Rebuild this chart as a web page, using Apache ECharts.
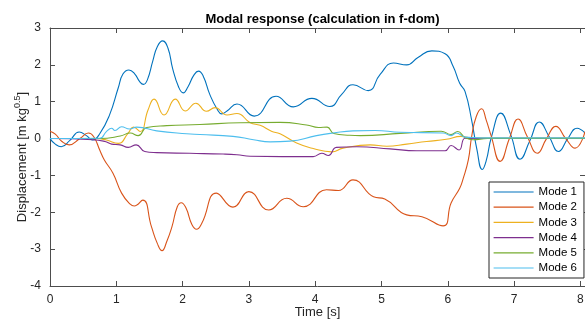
<!DOCTYPE html>
<html><head><meta charset="utf-8">
<script src="https://cdn.jsdelivr.net/npm/echarts@6/dist/echarts.min.js"></script>
<style>html,body{margin:0;padding:0;background:#fff}#c{width:585px;height:323px}</style>
</head><body><div id="c"></div>
<script>
var seriesNames = ['Mode 1','Mode 2','Mode 3','Mode 4','Mode 5','Mode 6'];
var xTicks = [0,1,2,3,4,5,6,7,8];
var yTicks = [-4,-3,-2,-1,0,1,2,3];
var mode1 = [[0,0],[0.08,-0.15],[0.17,-0.22],[0.3,-0.05],[0.44,0.18],[0.55,0.08],[0.64,-0.04],[0.75,0.13],[0.9,0.65],[1.03,1.38],[1.10,1.75],[1.19,1.86],[1.28,1.75],[1.35,1.55],[1.41,1.47],[1.47,1.6],[1.55,2.1],[1.62,2.5],[1.70,2.65],[1.78,2.45],[1.85,1.9],[1.94,1.4],[2.01,1.24],[2.08,1.4],[2.17,1.72],[2.24,1.83],[2.31,1.7],[2.41,1.2],[2.52,0.8],[2.59,0.67],[2.67,0.75],[2.82,0.94],[3.08,0.61],[3.41,1.15],[3.67,0.86],[3.95,1.09],[4.22,0.87],[4.40,1.2],[4.57,1.46],[4.8,1.30],[4.98,1.74],[5.18,2.05],[5.38,2.0],[5.55,2.2],[5.76,2.38],[5.96,2.30],[6.08,1.96],[6.18,1.5],[6.26,1.28],[6.36,0.5],[6.44,-0.3],[6.52,-0.84],[6.58,-0.6],[6.66,0.05],[6.80,0.69],[6.95,0.1],[7.09,-0.56],[7.24,-0.05],[7.38,0.45],[7.53,0.05],[7.67,-0.35],[7.81,0],[7.95,0.28],[8.07,0.15]];
var mode2 = [[0,0.2],[0.08,0.12],[0.18,-0.08],[0.29,-0.17],[0.45,0.0],[0.58,0.15],[0.66,0.05],[0.75,-0.31],[0.82,-0.58],[0.95,-0.94],[1.08,-1.48],[1.21,-1.78],[1.27,-1.83],[1.40,-1.67],[1.53,-2.39],[1.62,-2.85],[1.69,-3.04],[1.76,-2.8],[1.84,-2.39],[1.92,-1.85],[1.98,-1.74],[2.05,-1.88],[2.14,-2.33],[2.21,-2.46],[2.29,-2.3],[2.51,-1.48],[2.76,-1.86],[3.0,-1.44],[3.3,-1.94],[3.57,-1.62],[3.82,-1.85],[4.17,-1.39],[4.35,-1.41],[4.57,-1.12],[4.88,-1.58],[5.05,-1.64],[5.38,-2.07],[5.61,-2.12],[5.93,-2.37],[6.05,-1.75],[6.18,-1.35],[6.23,-1.10],[6.31,-0.58],[6.36,0.05],[6.43,0.6],[6.51,0.81],[6.58,0.5],[6.65,0.1],[6.79,-0.62],[6.93,0],[7.06,0.53],[7.2,0.05],[7.35,-0.40],[7.49,0],[7.63,0.33],[7.78,0],[7.92,-0.26],[8.07,0.19]];
var mode3 = [[0,0],[0.7,0],[0.85,-0.04],[1.03,-0.13],[1.18,0.15],[1.26,0.31],[1.36,0.19],[1.48,0.78],[1.57,1.07],[1.72,0.64],[1.89,1.07],[2.04,0.75],[2.20,0.96],[2.36,0.74],[2.49,0.84],[2.67,0.64],[2.82,0.68],[3.02,0.43],[3.17,0.36],[3.34,0.20],[3.47,0.13],[3.72,-0.12],[3.97,-0.27],[4.25,-0.36],[4.42,-0.26],[4.83,-0.17],[5.08,-0.21],[5.38,-0.15],[5.68,-0.08],[5.98,-0.02],[6.2,0.06],[6.35,0.02],[8.07,0.02]];
var mode4 = [[0,0],[0.65,-0.03],[0.83,-0.08],[0.93,-0.15],[1.06,-0.17],[1.18,-0.24],[1.3,-0.17],[1.43,-0.35],[1.61,-0.38],[2.11,-0.40],[2.61,-0.42],[2.82,-0.44],[3.02,-0.48],[3.97,-0.49],[4.10,-0.40],[4.20,-0.46],[4.32,-0.24],[4.63,-0.22],[5.13,-0.28],[5.53,-0.33],[5.96,-0.33],[6.05,-0.19],[6.17,-0.31],[6.26,0.01],[6.4,0.0],[8.07,0]];
var mode5 = [[0,0],[0.75,0],[1.06,0.07],[1.21,0.15],[1.33,0.08],[1.46,0.30],[1.76,0.35],[2.26,0.38],[2.87,0.43],[3.47,0.44],[3.87,0.37],[4.05,0.30],[4.18,0.31],[4.28,0.14],[4.52,0.09],[4.68,0.08],[5.28,0.14],[5.90,0.20],[6.05,0.11],[6.15,0.19],[6.26,0.03],[6.38,-0.03],[6.6,0.0],[8.07,0]];
var mode6 = [[0,0],[0.75,0.01],[0.85,0.19],[0.93,0.28],[0.98,0.22],[1.08,0.32],[1.2,0.26],[1.31,0.31],[1.61,0.21],[2.06,0.13],[2.26,0.11],[2.76,0.06],[3.07,-0.03],[3.32,-0.09],[3.62,-0.07],[4.02,0.08],[4.27,0.15],[4.57,0.21],[4.90,0.22],[5.28,0.17],[5.93,0.15],[6.05,0.08],[6.13,0.15],[6.26,0.04],[6.5,0.02],[8.07,0.02]];
var allData = [mode1, mode2, mode3, mode4, mode5, mode6];
var colors = ['#0072BD','#D95319','#EDB120','#7E2F8E','#77AC30','#4DBEEE'];

var FONT = 'Liberation Sans';
var axisCol = '#4d4d4d';
var txtCol = '#262626';
function intLabel(v){ return (Math.abs(v - Math.round(v)) < 1e-9) ? String(Math.round(v)) : ''; }
var chart = echarts.init(document.getElementById('c'), null, {renderer:'canvas'});
var baseX = {type:'value', min:0, max:8.07, interval:1,
  axisLine:{onZero:false, lineStyle:{color:axisCol,width:1}}, axisTick:{inside:true,length:5,lineStyle:{color:axisCol}},
  splitLine:{show:false}};
var baseY = {type:'value', min:-4, max:3, interval:1,
  axisLine:{show:true,onZero:false,lineStyle:{color:axisCol,width:1}}, axisTick:{show:true,inside:true,length:5,lineStyle:{color:axisCol}},
  splitLine:{show:false}};
chart.setOption({
  animation:false,
  color: colors,
  title:{text:'Modal response (calculation in f-dom)', left:317.5, textAlign:'center', top:8,
    textStyle:{fontFamily:FONT,fontSize:13,fontWeight:'bold',color:'#000'}},
  grid:{left:50, right:0, top:28, bottom:37, containLabel:false, outerBoundsMode:'none'},
  legend:{data:seriesNames, orient:'vertical', left:489, top:182, itemWidth:40, itemHeight:11, itemGap:3.2, itemTextGap:3,
    padding:[4,7,4,4], borderColor:'#262626', borderWidth:1, backgroundColor:'#fff',
    itemStyle:{opacity:0}, lineStyle:{width:1.2},
    textStyle:{fontFamily:FONT,fontSize:11.5,color:'#000'}},
  xAxis:[
    Object.assign({}, baseX, {position:'bottom', name:'Time [s]', nameLocation:'middle', nameGap:20, nameMoveOverlap:false,
      nameTextStyle:{fontFamily:FONT,fontSize:13,color:txtCol},
      axisLabel:{formatter:intLabel, showMaxLabel:false, fontFamily:FONT,fontSize:12,color:txtCol,margin:8}}),
    Object.assign({}, baseX, {position:'top', axisLabel:{show:false}})
  ],
  yAxis:[
    Object.assign({}, baseY, {position:'left', name:'{a|Displacement [m kg}{s|0.5}{a|]}', nameLocation:'middle', nameGap:21, nameMoveOverlap:false,
      nameTextStyle:{fontFamily:FONT,color:txtCol,rich:{a:{fontFamily:FONT,fontSize:13,color:txtCol,verticalAlign:'bottom',lineHeight:16},s:{fontFamily:FONT,fontSize:9,color:txtCol,verticalAlign:'top',lineHeight:16}}},
      axisLabel:{fontFamily:FONT,fontSize:12,color:txtCol,margin:9}}),
    Object.assign({}, baseY, {position:'right', axisLabel:{show:false}})
  ],
  series: allData.map(function(d,i){
    return {name:seriesNames[i], type:'line', data:d, xAxisIndex:0, yAxisIndex:0, symbol:'none', showSymbol:false,
      smooth:0.5, lineStyle:{width:1.1,color:colors[i]}, itemStyle:{color:colors[i]}, z:2+i};
  })
});
</script></body></html>
